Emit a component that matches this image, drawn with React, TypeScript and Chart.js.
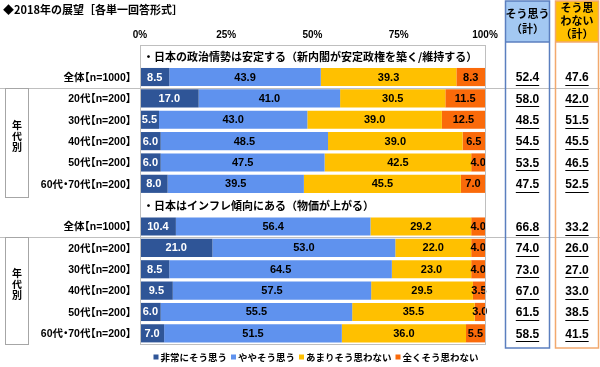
import React, { useEffect, useRef } from 'react';
import { Chart, registerables } from 'chart.js';

Chart.register(...registerables);

const titleText = '◆2018年の展望［各単一回答形式］';
const questions = [
  '・日本の政治情勢は安定する（新内閣が安定政権を築く/維持する）',
  '・日本はインフレ傾向にある（物価が上がる）',
];
const groupRows = ['全体【n=1000】', '20代【n=200】', '30代【n=200】', '40代【n=200】', '50代【n=200】', '60代・70代【n=200】'];
const seriesNames = ['非常にそう思う', 'ややそう思う', 'あまりそう思わない', '全くそう思わない'];
const seriesColors = ['#2F5597', '#5F92EE', '#FFC000', '#FA6A0A'];
const xTicks = [0, 25, 50, 75, 100];

const q1Strong = [8.5, 17.0, 5.5, 6.0, 6.0, 8.0];
const q1Somewhat = [43.9, 41.0, 43.0, 48.5, 47.5, 39.5];
const q1NotMuch = [39.3, 30.5, 39.0, 39.0, 42.5, 45.5];
const q1NotAtAll = [8.3, 11.5, 12.5, 6.5, 4.0, 7.0];
const q1AgreeTotal = [52.4, 58.0, 48.5, 54.5, 53.5, 47.5];
const q1DisagreeTotal = [47.6, 42.0, 51.5, 45.5, 46.5, 52.5];

const q2Strong = [10.4, 21.0, 8.5, 9.5, 6.0, 7.0];
const q2Somewhat = [56.4, 53.0, 64.5, 57.5, 55.5, 51.5];
const q2NotMuch = [29.2, 22.0, 23.0, 29.5, 35.5, 36.0];
const q2NotAtAll = [4.0, 4.0, 4.0, 3.5, 3.0, 5.5];
const q2AgreeTotal = [66.8, 74.0, 73.0, 67.0, 61.5, 58.5];
const q2DisagreeTotal = [33.2, 26.0, 27.0, 33.0, 38.5, 41.5];

const agreeHeader = ['そう思う', '（計）'];
const disagreeHeader = ['そう思', 'わない', '（計）'];
const ageGroupLabel = ['年', '代', '別'];

const JP = '"Noto Sans CJK JP", sans-serif';
const MIX = '"Liberation Sans", "Noto Sans CJK JP", sans-serif';

const rowLabels = ['', ...groupRows, '', ...groupRows];
const join = (a: number[], b: number[]) => [null, ...a, null, ...b];
const seriesData = [
  join(q1Strong, q2Strong),
  join(q1Somewhat, q2Somewhat),
  join(q1NotMuch, q2NotMuch),
  join(q1NotAtAll, q2NotAtAll),
];
const agreeCol = join(q1AgreeTotal, q2AgreeTotal);
const disagreeCol = join(q1DisagreeTotal, q2DisagreeTotal);

const GRAY = '#BFBFBF';

// draw text with half-width brackets / middle dot (proportional CJK punctuation)
function drawCondensedRight(ctx: any, text: string, rightX: number, cy: number) {
  const chars = Array.from(text);
  const items = chars.map((ch) => {
    const w = ctx.measureText(ch).width;
    if (ch === '【') return { ch, adv: w / 2, off: -w / 2 };
    if (ch === '】') return { ch, adv: w / 2, off: 0 };
    if (ch === '・') return { ch, adv: w / 2, off: -w / 4 };
    return { ch, adv: w, off: 0 };
  });
  const total = items.reduce((a, b) => a + b.adv, 0);
  let x = rightX - total;
  ctx.textAlign = 'left';
  items.forEach((it) => {
    ctx.fillText(it.ch, x + it.off, cy);
    x += it.adv;
  });
}

const overlay = {
  id: 'overlay',
  afterDatasetsDraw(chart: any) {
    const ctx = chart.ctx;
    const area = chart.chartArea;
    const y = chart.scales.y;
    const W = chart.width;
    ctx.save();

    // data labels
    ctx.font = `bold 11px ${MIX}`;
    ctx.textAlign = 'center';
    ctx.textBaseline = 'middle';
    chart.data.datasets.forEach((ds: any, di: number) => {
      const meta = chart.getDatasetMeta(di);
      meta.data.forEach((bar: any, i: number) => {
        const v = ds.data[i];
        if (v == null) return;
        ctx.fillStyle = di === 0 ? '#FFFFFF' : '#000000';
        ctx.fillText(v.toFixed(1), (bar.x + bar.base) / 2, bar.y + 0.5);
      });
    });

    const step = y.getPixelForValue(1) - y.getPixelForValue(0);

    // category labels
    ctx.font = `bold 10.5px ${MIX}`;
    ctx.fillStyle = '#000';
    rowLabels.forEach((lab, i) => {
      if (!lab) return;
      drawCondensedRight(ctx, lab, area.left - 9, y.getPixelForValue(i) + 1);
    });

    // plot border
    ctx.strokeStyle = GRAY;
    ctx.lineWidth = 1;
    ctx.strokeRect(Math.round(area.left) + 0.5, Math.round(area.top) + 0.5, Math.round(area.right - area.left), Math.round(area.bottom - area.top));

    // question headers
    ctx.font = `bold 11px ${JP}`;
    ctx.textAlign = 'left';
    ctx.fillStyle = '#000';
    ctx.fillText(questions[0], area.left + 3, y.getPixelForValue(0) + 1);
    ctx.fillText(questions[1], area.left + 3, y.getPixelForValue(7) + 1);

    // separators
    const sepYs = [y.getPixelForValue(1) + step / 2, y.getPixelForValue(8) + step / 2];
    ctx.strokeStyle = GRAY;
    sepYs.forEach((sy) => {
      const yy = Math.round(sy) + 0.5;
      ctx.beginPath();
      ctx.moveTo(0, yy);
      ctx.lineTo(W, yy);
      ctx.stroke();
    });

    // age-group boxes
    const groupBounds = [
      [y.getPixelForValue(2) - step / 2, y.getPixelForValue(6) + step / 2 + 2],
      [y.getPixelForValue(9) - step / 2, y.getPixelForValue(13) + step / 2],
    ];
    groupBounds.forEach(([t, b]) => {
      ctx.strokeStyle = '#A6A6A6';
      ctx.strokeRect(5.5, Math.round(t) + 0.5, 23, Math.round(b - t));
      ctx.fillStyle = '#000';
      ctx.font = `bold 10px ${JP}`;
      ctx.textAlign = 'center';
      const cy = (t + b) / 2 - 6;
      ageGroupLabel.forEach((ch, k) => ctx.fillText(ch, 17, cy + (k - 1) * 11));
    });

    // right columns
    const cols = [
      { x0: 505, x1: 549, fill: '#A3C8F2', border: '#5B7FBF', header: agreeHeader, vals: agreeCol },
      { x0: 555, x1: 598, fill: '#FFC000', border: '#F2A96E', header: disagreeHeader, vals: disagreeCol },
    ];
    const boxBottom = area.bottom + 4;
    cols.forEach((c) => {
      ctx.fillStyle = c.fill;
      ctx.fillRect(c.x0, 1, c.x1 - c.x0, 41);
      ctx.strokeStyle = c.border;
      ctx.lineWidth = 1.5;
      ctx.strokeRect(c.x0 + 0.5, 1, c.x1 - c.x0, boxBottom - 1);
      ctx.beginPath();
      ctx.moveTo(c.x0, 42);
      ctx.lineTo(c.x1, 42);
      ctx.stroke();
      ctx.lineWidth = 1;
      const cx = (c.x0 + c.x1) / 2 + 0.5;
      ctx.fillStyle = '#000';
      ctx.font = `bold 11px ${JP}`;
      ctx.textAlign = 'center';
      const n = c.header.length;
      const lh = n === 2 ? 15 : 13;
      const startY = 21 - ((n - 1) * lh) / 2;
      c.header.forEach((line, k) => ctx.fillText(line, cx, startY + k * lh));
      ctx.font = `bold 12px ${MIX}`;
      c.vals.forEach((v, i) => {
        if (v == null) return;
        const txt = v.toFixed(1);
        const py = y.getPixelForValue(i) + 1;
        ctx.fillText(txt, cx, py);
        const w = ctx.measureText(txt).width;
        ctx.strokeStyle = '#000';
        ctx.beginPath();
        ctx.moveTo(cx - w / 2, Math.round(py + 7) + 0.5);
        ctx.lineTo(cx + w / 2, Math.round(py + 7) + 0.5);
        ctx.stroke();
      });
    });

    // legend
    ctx.font = `bold 9.5px ${JP}`;
    ctx.textAlign = 'left';
    const box = 5;
    const gap = 2;
    const spacing = 4;
    const widths = seriesNames.map((s) => box + gap + ctx.measureText(s).width);
    const total = widths.reduce((a, b) => a + b, 0) + spacing * (seriesNames.length - 1);
    let lx = 316 - total / 2;
    const ly = 357;
    seriesNames.forEach((s, k) => {
      ctx.fillStyle = seriesColors[k];
      ctx.fillRect(lx, ly - 2.5, box, box);
      ctx.fillStyle = '#000';
      ctx.fillText(s, lx + box + gap, ly + 0.5);
      lx += widths[k] + spacing;
    });

    // title
    ctx.font = `bold 11px ${JP}`;
    ctx.fillText(titleText, 3, 10);

    ctx.restore();
  },
};

export default function App() {
  const ref = useRef<HTMLCanvasElement | null>(null);
  useEffect(() => {
    if (!ref.current) return;
    const chart = new Chart(ref.current, {
      type: 'bar',
      data: {
        labels: rowLabels,
        datasets: seriesNames.map((name, k) => ({
          label: name,
          data: seriesData[k],
          backgroundColor: seriesColors[k],
          borderWidth: 0,
          barPercentage: 0.85,
          categoryPercentage: 1,
        })),
      },
      options: {
        indexAxis: 'y',
        responsive: false,
        animation: false,
        layout: { padding: { left: 0, right: 115, top: 0, bottom: 23 } },
        plugins: { legend: { display: false }, tooltip: { enabled: false }, title: { display: false } },
        scales: {
          x: {
            position: 'top',
            stacked: true,
            min: 0,
            max: 100,
            afterFit: (s: any) => { s.height = 45; },
            afterBuildTicks: (s: any) => { s.ticks = xTicks.map((v) => ({ value: v })); },
            grid: { display: false, drawTicks: false },
            border: { display: false },
            ticks: {
              padding: 4,
              color: '#000',
              font: { family: MIX, size: 10, weight: 'bold' },
              callback: (v: any) => `${v}%`,
            },
          },
          y: {
            stacked: true,
            afterFit: (s: any) => { s.width = 140; },
            grid: { display: false, drawTicks: false },
            border: { display: false },
            ticks: { display: false },
          },
        },
      } as any,
      plugins: [overlay],
    });
    return () => chart.destroy();
  }, []);
  return (
    <div style={{ position: 'absolute', left: 0, top: 0, width: 600, height: 367, background: '#fff' }}>
      <canvas ref={ref} width={600} height={367} style={{ display: 'block' }} />
    </div>
  );
}
